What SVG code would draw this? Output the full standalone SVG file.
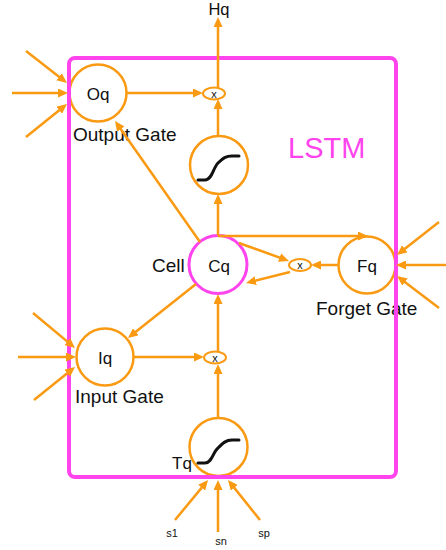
<svg xmlns="http://www.w3.org/2000/svg" width="446" height="550" viewBox="0 0 446 550">
<style>
.node{fill:#fff;stroke:#f99a12;stroke-width:2.5}
.cell{fill:#fff;stroke:#ff44ee;stroke-width:3}
.mul{fill:#fff;stroke:#f99a12;stroke-width:2}
.c line{stroke:#f99a12;stroke-width:2.5;marker-end:url(#ah)}
.sig{fill:none;stroke:#111;stroke-width:3;stroke-linecap:round}
text{font-family:"Liberation Sans",Arial,sans-serif;fill:#111}
.n{font-size:17px;text-anchor:middle}
.lab{font-size:19px}
.x{font-size:11px;text-anchor:middle}
.s{font-size:11px;text-anchor:middle}
</style>
<defs>
<marker id="ah" markerUnits="userSpaceOnUse" markerWidth="10" markerHeight="9" refX="6" refY="4.5" orient="auto">
<path d="M0,0 L10,4.5 L0,9 z" fill="#f99a12"/>
</marker>
</defs>
<rect x="0" y="0" width="446" height="550" fill="#fff"/>

<g id="Oq"><circle class="node" cx="98" cy="93" r="28.5"/><text class="n" x="98" y="100">Oq</text><text class="lab" x="73" y="141">Output Gate</text></g>
<g id="sigmoid_out"><circle class="node" cx="219" cy="165" r="29"/><path class="sig" d="M198,180 L205,180 C212,180 213,168 218,163 C223,158 226,156 232,156 L239,156"/></g>
<g id="Cq"><circle class="cell" cx="218" cy="264.5" r="29"/><text class="n" x="219" y="272">Cq</text><text class="lab" x="152" y="272">Cell</text></g>
<g id="Fq"><circle class="node" cx="367" cy="265" r="28.5"/><text class="n" x="367" y="272">Fq</text><text class="lab" x="316" y="315">Forget Gate</text></g>
<g id="Iq"><circle class="node" cx="105" cy="357" r="28.5"/><text class="n" x="105" y="364">Iq</text><text class="lab" x="75" y="403">Input Gate</text></g>
<g id="Tq"><circle class="node" cx="218.5" cy="447" r="29"/><path class="sig" d="M198,463 L205,463 C212,463 213,452 218,448 C223,443 226,440 232,440 L239,440"/><text class="n" x="172" y="469" style="text-anchor:start">Tq</text></g>
<g id="mul_out"><ellipse class="mul" cx="214" cy="93.5" rx="11" ry="6"/><text class="x" x="214" y="97.5">x</text></g>
<g id="mul_forget"><ellipse class="mul" cx="300" cy="265" rx="11" ry="6"/><text class="x" x="300" y="269">x</text></g>
<g id="mul_in"><ellipse class="mul" cx="215" cy="357.5" rx="11" ry="6"/><text class="x" x="215" y="361.5">x</text></g>
<g id="Hq"><text class="n" x="219" y="15" style="font-size:16.5px">Hq</text></g>
<g id="inputs"><text class="s" x="172" y="537">s1</text><text class="s" x="221" y="545">sn</text><text class="s" x="264" y="537">sp</text></g>

<g id="LSTM"><rect x="69" y="58" width="327" height="419" rx="6" fill="none" stroke="#ff44ee" stroke-width="4"/><text x="288" y="158" style="font-size:29px;fill:#ff44ee">LSTM</text></g>

<g id="connectors" class="c">
<line x1="26" y1="51" x2="63.8" y2="80.5"/>
<line x1="12" y1="93" x2="64" y2="93"/>
<line x1="26" y1="137" x2="63.9" y2="106.5"/>
<line x1="126.5" y1="93" x2="199" y2="93"/>
<line x1="218" y1="136" x2="218" y2="103"/>
<line x1="218" y1="87.5" x2="218" y2="21"/>
<line x1="218" y1="235.5" x2="218" y2="198"/>
<line x1="200" y1="242" x2="117.3" y2="124.3"/>
<line x1="218" y1="236" x2="364" y2="236"/>
<line x1="239" y1="243" x2="285.2" y2="259.6"/>
<line x1="338.5" y1="265" x2="315" y2="265"/>
<line x1="290" y1="272" x2="249.9" y2="282"/>
<line x1="196" y1="284" x2="131.1" y2="335.5"/>
<line x1="33" y1="313" x2="71.9" y2="345.4"/>
<line x1="18" y1="357" x2="72" y2="357"/>
<line x1="34" y1="400" x2="71.9" y2="369.5"/>
<line x1="133.5" y1="357" x2="200" y2="357"/>
<line x1="218" y1="351.5" x2="218" y2="298"/>
<line x1="218" y1="418" x2="218" y2="368"/>
<line x1="439" y1="222" x2="400.1" y2="252.5"/>
<line x1="446" y1="265" x2="400" y2="265"/>
<line x1="439" y1="308" x2="400.2" y2="278.4"/>
<line x1="175" y1="520" x2="205.5" y2="483.1"/>
<line x1="218" y1="532" x2="218" y2="484"/>
<line x1="260" y1="520" x2="230.5" y2="483.1"/>
</g>
</svg>
